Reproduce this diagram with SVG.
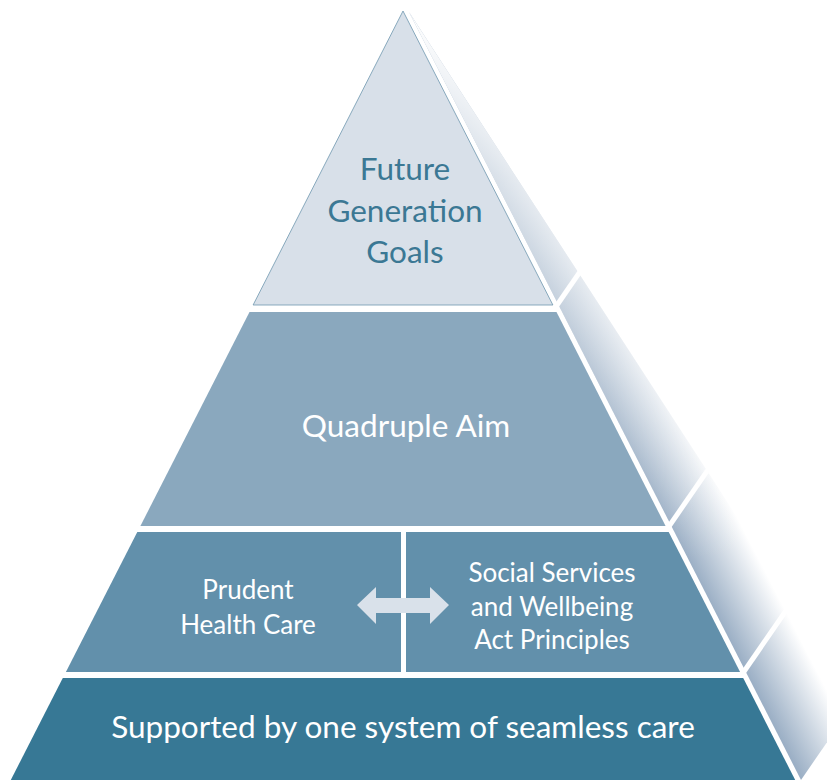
<svg xmlns="http://www.w3.org/2000/svg" width="827" height="780" viewBox="0 0 827 780">
  <defs>
    <linearGradient id="faceGrad" gradientUnits="userSpaceOnUse" x1="709" y1="600" x2="765" y2="571">
      <stop offset="0" stop-color="#9bafc5"/>
      <stop offset="1" stop-color="#ffffff"/>
    </linearGradient>
    <linearGradient id="fadeTop" gradientUnits="userSpaceOnUse" x1="0" y1="11" x2="0" y2="560">
      <stop offset="0" stop-color="#ffffff" stop-opacity="1"/>
      <stop offset="0.3" stop-color="#ffffff" stop-opacity="0.6"/>
      <stop offset="1" stop-color="#ffffff" stop-opacity="0"/>
    </linearGradient>
  </defs>
  <style>
    .t { font-family: "Lato", "Open Sans", "Liberation Sans", sans-serif; text-anchor: middle; }
    .big { font-size: 31.5px; }
    .mid { font-size: 26px; }
    .light { fill: #ffffff; }
    .dark { fill: #3b7894; }
    .cut { stroke: #ffffff; stroke-width: 5; fill: none; }
  </style>
  <rect width="827" height="780" fill="#ffffff"/>

  <g id="side-face">
    <polygon points="409,12 801,780 856,700" fill="url(#faceGrad)"/>
    <polygon points="409,12 801,780 856,700" fill="url(#fadeTop)"/>
    <line class="cut" x1="554.7" y1="308.5" x2="600" y2="242.6"/>
    <line class="cut" x1="667.2" y1="529" x2="712.6" y2="463.1"/>
    <line class="cut" x1="741.6" y1="675" x2="787" y2="609.1"/>
  </g>

  <g id="layer-future-generation-goals">
    <polygon points="403,11 552.9,305 253.1,305" fill="#d8e0e9" stroke="#6f97ae" stroke-width="0.8"/>
    <text class="t big dark" x="405" y="180">Future</text>
    <text class="t big dark" x="405" y="222">Generation</text>
    <text class="t big dark" x="405" y="263">Goals</text>
  </g>

  <g id="layer-quadruple-aim">
    <polygon points="249.5,312 556.5,312 665.6,526 140.4,526" fill="#8aa8be"/>
    <text class="t big light" x="406" y="437">Quadruple Aim</text>
  </g>

  <g id="layer-prudent-health-care">
    <polygon points="137.3,532 401,532 401,672 65.9,672" fill="#6290ab"/>
    <text class="t mid light" x="248" y="599">Prudent</text>
    <text class="t mid light" x="248" y="634">Health Care</text>
  </g>

  <g id="layer-social-services">
    <polygon points="406,532 668.7,532 740.1,672 406,672" fill="#6290ab"/>
    <text class="t mid light" x="552" y="582">Social Services</text>
    <text class="t mid light" x="552" y="616">and Wellbeing</text>
    <text class="t mid light" x="552" y="649">Act Principles</text>
  </g>

  <g id="connectors">
    <polygon points="357,605 376,587 376,598 430,598 430,587 449,605 430,624 430,613 376,613 376,624" fill="#d9e1ea"/>
  </g>

  <g id="layer-seamless-care">
    <polygon points="62.8,678 743.2,678 795.2,780 10.8,780" fill="#377895"/>
    <text class="t big light" x="403" y="738">Supported by one system of seamless care</text>
  </g>
</svg>
